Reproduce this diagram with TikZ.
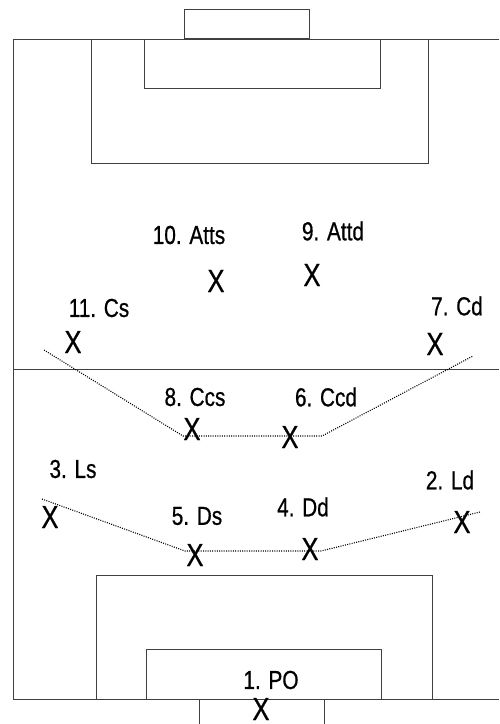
\documentclass[tikz,border=0pt]{standalone}
\usepackage{fontspec}
\setmainfont{Liberation Sans}
\newfontfamily\lblfont{Liberation Sans}[FakeBold=0.8]
\newcommand{\nrw}[1]{\scalebox{0.8}[1]{#1}}
\newcommand{\nrx}{\scalebox{0.8}[1]{X}}
\begin{document}
\begin{tikzpicture}[x=1pt,y=-1pt,
  fieldline/.style={draw=black!75, line width=1pt},
  lbl/.style={inner sep=0pt, font=\lblfont\fontsize{26}{26}\selectfont},
  xmk/.style={inner sep=0pt, font=\lblfont\fontsize{32}{32}\selectfont},
  dotline/.style={draw=black, line width=1.1pt, dash pattern=on 1pt off 1.3pt}]
\useasboundingbox (0,0) rectangle (499,724);
% field
\draw[fieldline] (499,39) -- (13,39) -- (13,699) -- (499,699);
\draw[fieldline] (13,369) -- (499,369);
% top end
\draw[fieldline] (184,38) rectangle (309,9);
\draw[fieldline] (91,39) rectangle (428,163);
\draw[fieldline] (144,39) rectangle (380,88);
% bottom end
\draw[fieldline] (96,699) rectangle (432,575);
\draw[fieldline] (146,699) rectangle (381,649);
\draw[fieldline] (199,730) -- (199,699) -- (324,699) -- (324,730);
% labels
\node[lbl] (l10) at (189,235) {\nrw{10. Atts}};
\node[lbl] (l9)  at (333,231) {\nrw{9. Attd}};
\node[lbl] (l11) at (99,308) {\nrw{11. Cs}};
\node[lbl] (l7)  at (457,306) {\nrw{7. Cd}};
\node[lbl] (l8)  at (195,397) {\nrw{8. Ccs}};
\node[lbl] (l6)  at (326,397) {\nrw{6. Ccd}};
\node[lbl] (l3)  at (73,469) {\nrw{3. Ls}};
\node[lbl] (l2)  at (450,480) {\nrw{2. Ld}};
\node[lbl] (l5)  at (197,516) {\nrw{5. Ds}};
\node[lbl] (l4)  at (303,507) {\nrw{4. Dd}};
\node[lbl] (l1)  at (271,680) {\nrw{1. PO}};
% players
\node[xmk] (p10) at (216,281) {\nrx};
\node[xmk] (p9)  at (312,275) {\nrx};
\node[xmk] (p11) at (73,342) {\nrx};
\node[xmk] (p7)  at (435,344) {\nrx};
\node[xmk] (p8)  at (192,429) {\nrx};
\node[xmk] (p6)  at (290,437) {\nrx};
\node[xmk] (p3)  at (50,517) {\nrx};
\node[xmk] (p2)  at (462,522) {\nrx};
\node[xmk] (p5)  at (195,555) {\nrx};
\node[xmk] (p4)  at (310,549) {\nrx};
\node[xmk] (p1)  at (261,709) {\nrx};
% lines
\coordinate (m1) at (44,350);
\coordinate (m2) at (183,436);
\coordinate (m3) at (322,436);
\coordinate (m4) at (473,356);
\draw[dotline] (m1) -- (m2) -- (m3) -- (m4);
\coordinate (d1) at (42,499);
\coordinate (d2) at (185,551);
\coordinate (d3) at (321,551);
\coordinate (d4) at (480,512);
\draw[dotline] (d1) -- (d2) -- (d3) -- (d4);
\end{tikzpicture}
\end{document}
